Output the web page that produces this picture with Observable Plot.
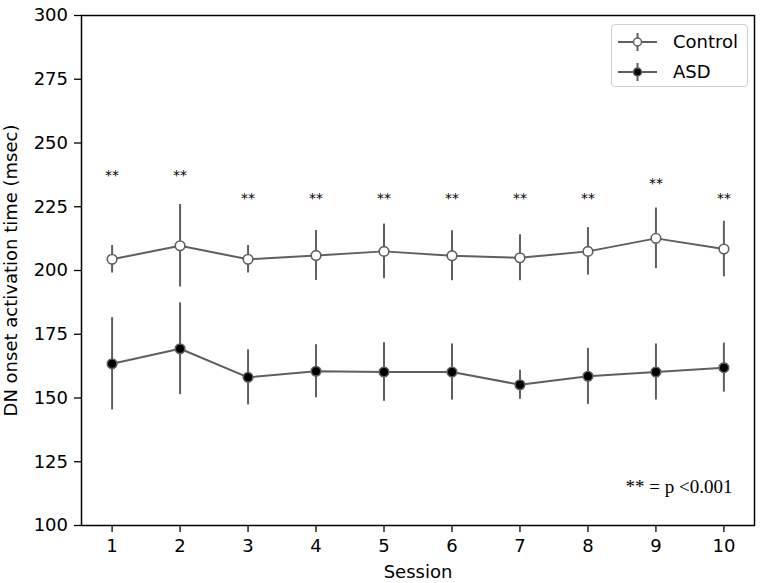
<!DOCTYPE html>
<html><head><meta charset="utf-8">
<script src="https://cdn.jsdelivr.net/npm/d3@7"></script>
<script src="https://cdn.jsdelivr.net/npm/@observablehq/plot@0.6"></script>
<style>
body{margin:0;background:#fff;}
#wrap{position:relative;width:765px;height:583px;}
#legend{position:absolute;left:611px;top:24px;width:135px;height:61px;border:1px solid #d0d0d0;border-radius:4px;background:rgba(255,255,255,0.85);font-family:"DejaVu Sans";font-size:18px;color:#000;}
.row{position:absolute;left:0;height:24px;}
.row svg{position:absolute;left:6px;top:0;}
.row span{position:absolute;left:61px;top:1px;line-height:22px;white-space:nowrap;}
</style></head>
<body>
<div id="wrap"><div id="chart"></div>
<div id="legend"></div></div>
<script>
const sessions = [1,2,3,4,5,6,7,8,9,10];
const controlMean = [204.4, 209.7, 204.4, 205.9, 207.5, 205.8, 205.0, 207.5, 212.6, 208.4];
const controlErr  = [5.4, 16.2, 5.4, 9.8, 10.7, 9.8, 9.0, 9.3, 11.9, 10.9];
const asdMean = [163.4, 169.3, 158.1, 160.5, 160.2, 160.2, 155.2, 158.5, 160.2, 161.9];
const asdErr  = [18.1, 18.0, 10.8, 10.4, 11.5, 11.0, 5.7, 11.0, 11.0, 9.6];
const starY = [238.8, 238.8, 229.6, 229.6, 229.6, 229.6, 229.6, 229.6, 235.6, 229.6];
const starLabel = "**";
const yTicks = [100,125,150,175,200,225,250,275,300];
const xTicks = sessions;
const groups = ["Control","ASD"];
const note = "** = p <0.001";
const yLabel = "DN onset activation time (msec)";
const xLabel = "Session";

const lineColor = "#5f5f5f";
const control = sessions.map((s,i)=>({session:s, mean:controlMean[i], err:controlErr[i]}));
const asd = sessions.map((s,i)=>({session:s, mean:asdMean[i], err:asdErr[i]}));
const stars = sessions.map((s,i)=>({session:s, y:starY[i]}));

const chart = Plot.plot({
  width:765, height:583,
  marginLeft:81, marginRight:11, marginTop:15, marginBottom:58,
  style:{fontFamily:"DejaVu Sans", fontSize:"18px", color:"black", background:"white"},
  x:{domain:[0.55,10.45]},
  y:{domain:[100,300]},
  marks:[
    Plot.axisX({ticks:xTicks, tickSize:7, tickPadding:7, tickFormat:d=>String(d), label:xLabel, labelAnchor:"center", labelOffset:52, labelArrow:"none", strokeWidth:1.3}),
    Plot.axisY({ticks:yTicks, tickSize:7, tickPadding:6.5, tickFormat:d=>String(d), label:yLabel, labelAnchor:"center", labelOffset:77, labelArrow:"none", strokeWidth:1.3}),
    Plot.ruleX(control, {x:"session", y1:d=>d.mean-d.err, y2:d=>d.mean+d.err, stroke:lineColor, strokeWidth:2}),
    Plot.ruleX(asd, {x:"session", y1:d=>d.mean-d.err, y2:d=>d.mean+d.err, stroke:lineColor, strokeWidth:2}),
    Plot.line(control, {x:"session", y:"mean", stroke:lineColor, strokeWidth:2}),
    Plot.line(asd, {x:"session", y:"mean", stroke:lineColor, strokeWidth:2}),
    Plot.dot(control, {x:"session", y:"mean", r:4.8, fill:"white", stroke:lineColor, strokeWidth:1.6}),
    Plot.dot(asd, {x:"session", y:"mean", r:4.8, fill:"black", stroke:lineColor, strokeWidth:1.6}),
    Plot.text(stars, {x:"session", y:"y", text:()=>starLabel, fontFamily:"DejaVu Sans", fontSize:14, dy:3.6, fill:"black"}),
    Plot.text([note], {text:d=>d, frameAnchor:"bottom-right", textAnchor:"end", dx:-22, dy:-33, fontFamily:"Liberation Serif", fontSize:19, fill:"black"}),
    Plot.frame({stroke:"black", strokeWidth:1.5})
  ]
});
document.getElementById("chart").appendChild(chart);

// legend
const legend = document.getElementById("legend");
const fills = {"Control":"white","ASD":"black"};
groups.forEach((g,i)=>{
  const row = document.createElement("div");
  row.className = "row";
  row.style.top = (5 + i*30) + "px";
  row.style.width = "135px";
  row.innerHTML = `<svg width="40" height="24"><line x1="0" x2="39" y1="12" y2="12" stroke="${lineColor}" stroke-width="2"/><line x1="19.5" x2="19.5" y1="3" y2="21" stroke="${lineColor}" stroke-width="2"/><circle cx="19.5" cy="12" r="4" fill="${fills[g]}" stroke="${lineColor}" stroke-width="1.5"/></svg><span>${g}</span>`;
  legend.appendChild(row);
});
</script>
</body></html>
